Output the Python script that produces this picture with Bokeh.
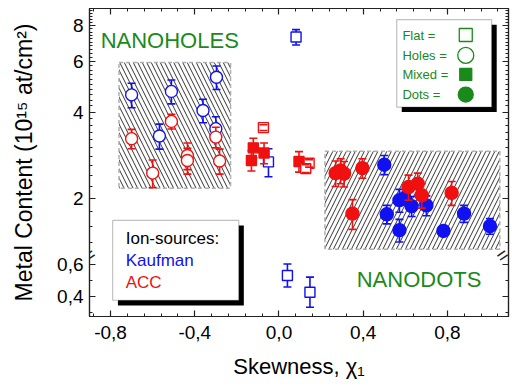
import numpy as np
from bokeh.plotting import figure
from bokeh.models import (Range1d, LinearScale, LogAxis, LinearAxis, FixedTicker,
                          BoxAnnotation, Label, ColumnDataSource, CustomJSTickFormatter)
from bokeh.embed import file_html
from bokeh.resources import INLINE

# ---------------- data (metal content in 1e15 at/cm^2 vs skewness) ----------------
# Kaufman source, "holes" morphology
kauf_holes_x = [-0.70, -0.568, -0.511, -0.361, -0.30, -0.297]
kauf_holes_y = [4.59, 3.30, 4.72, 4.05, 3.50, 5.29]
kauf_holes_e = [0.45, 0.33, 0.45, 0.38, 0.35, 0.50]

# ACC source, "holes" morphology
acc_holes_x = [-0.70, -0.60, -0.511, -0.435, -0.435, -0.30, -0.282]
acc_holes_y = [3.23, 2.45, 3.71, 2.82, 2.71, 3.27, 2.70]
acc_holes_e = [0.25, 0.27, 0.22, 0.30, 0.28, 0.27, 0.27]

# Kaufman source, flat surfaces (upper and lower part of the broken axis)
kauf_flat_x = [-0.05, 0.081]
kauf_flat_y = [2.68, 7.30]
kauf_flat_e = [0.30, 0.45]
kauf_flat_low_x = [0.04, 0.147]
kauf_flat_low_y = [0.531, 0.427]
kauf_flat_low_e = [0.072, 0.094]

# ACC source, flat surfaces
acc_flat_x = [-0.074, 0.143, 0.127]
acc_flat_y = [3.53, 2.65, 2.54]
acc_flat_e = [0.08, 0.08, 0.08]

# ACC source, mixed morphology
acc_mixed_x = [-0.122, -0.071, -0.131, 0.095]
acc_mixed_y = [3.00, 2.88, 2.71, 2.69]
acc_mixed_e = [0.24, 0.24, 0.22, 0.22]

# Kaufman source, dots
kauf_dots_x = [0.50, 0.512, 0.572, 0.572, 0.596, 0.63, 0.70, 0.781, 0.879, 1.002]
kauf_dots_y = [2.62, 1.76, 1.55, 1.97, 2.00, 1.88, 1.89, 1.54, 1.77, 1.60]
kauf_dots_e = [0.20, 0.13, 0.14, 0.18, 0.10, 0.15, 0.15, 0.04, 0.12, 0.10]

# ACC source, dots
acc_dots_x = [0.269, 0.293, 0.309, 0.396, 0.349, 0.615, 0.659, 0.678, 0.82]
acc_dots_y = [2.45, 2.50, 2.44, 2.55, 1.77, 2.19, 2.25, 2.05, 2.09]
acc_dots_e = [0.25, 0.25, 0.25, 0.20, 0.21, 0.22, 0.20, 0.20, 0.20]

# shaded regions: NANOHOLES and NANODOTS
region_left = [-0.76, 0.218]
region_right = [-0.23, 1.049]
region_bottom = [2.17, 1.33]
region_top = [5.95, 2.92]
region_hatch = ["left_diagonal_line", "right_diagonal_line"]

# tick labels
x_major = [-0.8, -0.4, 0.0, 0.4, 0.8]
x_labels = ["-0,8", "-0,4", "0,0", "0,4", "0,8"]
y_major_up = [2, 4, 6, 8]
y_major_low = [0.4, 0.6]
y_labels_low = ["0,4", "0,6"]

# ---------------- axis geometry ----------------
X_MIN, X_MAX = -0.9, 1.09
UP_MIN, UP_MAX = 0.775, 9.18    # log section (mapped over the whole frame)
LO_MIN, LO_MAX = 0.275, 2.20    # linear section (mapped over the whole frame)
BREAK_AT = 0.658                # lower-section value where the axis is broken

BLUE = "#1010f0"
RED = "#f01010"
GREEN = "#1a8a1a"
FONT = "Liberation Sans"


def lower_to_upper(v):
    """Position of a lower-section value expressed in upper (log) coordinates."""
    frac = (v - LO_MIN) / (LO_MAX - LO_MIN)
    lu = np.log10(UP_MIN) + frac * (np.log10(UP_MAX) - np.log10(UP_MIN))
    return round(float(10 ** lu), 10)


p = figure(width=512, height=387, output_backend="svg", toolbar_location=None,
           x_range=Range1d(X_MIN, X_MAX), y_range=Range1d(UP_MIN, UP_MAX),
           y_axis_type="log",
           min_border_left=89, min_border_right=4, min_border_top=8,
           min_border_bottom=71)
p.extra_y_ranges = {"lower": Range1d(LO_MIN, LO_MAX)}
p.extra_y_scales = {"lower": LinearScale()}
p.xgrid.visible = False
p.ygrid.visible = False
p.outline_line_color = "#222222"
p.outline_line_width = 1.2
p.background_fill_color = "white"
p.border_fill_color = "white"

# ---------------- ticks ----------------
x_ticker = FixedTicker(ticks=x_major,
                       minor_ticks=[round(v, 2) for v in np.arange(-0.88, 1.09, 0.08)])
y_major_low_pos = [lower_to_upper(v) for v in y_major_low]
y_ticker = FixedTicker(
    ticks=y_major_up + y_major_low_pos,
    minor_ticks=[round(v, 1) for v in np.arange(1.4, 9.01, 0.2)]
    + [lower_to_upper(0.3), lower_to_upper(0.5)])


def style_axis(ax, show_labels):
    ax.axis_line_color = "#222222"
    ax.axis_line_width = 1.2
    ax.major_tick_in = 6
    ax.major_tick_out = 0
    ax.minor_tick_in = 3
    ax.minor_tick_out = 0
    ax.major_tick_line_color = "#222222"
    ax.minor_tick_line_color = "#222222"
    ax.major_tick_line_width = 1.2
    ax.minor_tick_line_width = 1
    ax.major_label_text_font = FONT
    ax.major_label_text_color = "black"
    ax.major_label_text_font_size = "19px"
    if not show_labels:
        # mirror axis: ticks only
        ax.formatter = CustomJSTickFormatter(code="return ''")
        ax.major_label_standoff = 0


xa = p.xaxis[0]
xa.ticker = x_ticker
style_axis(xa, True)
xa.major_label_standoff = 9
xa.major_label_overrides = {v: s for v, s in zip(x_major, x_labels)}
xa.axis_label = "Skewness, χ₁"
xa.axis_label_text_font = FONT
xa.axis_label_text_font_style = "normal"
xa.axis_label_text_font_size = "22px"
xa.axis_label_text_color = "black"
xa.axis_label_standoff = 12

ya = p.yaxis[0]
ya.ticker = y_ticker
style_axis(ya, True)
ya.major_label_standoff = 6
overrides = {v: str(v) for v in y_major_up}
overrides.update({pos: s for pos, s in zip(y_major_low_pos, y_labels_low)})
ya.major_label_overrides = overrides
ya.axis_label = "Metal Content (10¹⁵ at/cm²)"
ya.axis_label_text_font = FONT
ya.axis_label_text_font_style = "normal"
ya.axis_label_text_font_size = "23px"
ya.axis_label_text_color = "black"
ya.axis_label_standoff = 17

top_axis = LinearAxis(ticker=x_ticker)
style_axis(top_axis, False)
p.add_layout(top_axis, "above")
right_axis = LogAxis(ticker=y_ticker)
style_axis(right_axis, False)
p.add_layout(right_axis, "right")

# axis break marks on both vertical axes (a slanted double stroke)
for x_axis_pos, shift in ((X_MIN, 0), (X_MAX, -6)):
    p.add_layout(Label(x=x_axis_pos, y=BREAK_AT, y_range_name="lower", text="=",
                       x_offset=shift, text_font=FONT, text_font_size="19px",
                       text_color="#222222", text_align="center",
                       text_baseline="middle", angle=0.6))

# ---------------- hatched regions ----------------
p.quad(left=region_left, right=region_right, bottom=region_bottom, top=region_top,
       fill_color="white", hatch_pattern=region_hatch, hatch_color="#333333",
       hatch_scale=9, hatch_weight=1.0, line_color="#b0b0b0", line_dash="4 3",
       line_width=1.5)


# ---------------- data series ----------------
def series(xs, ys, errs, marker, color, filled, size, range_name="default"):
    src = ColumnDataSource(dict(x=xs, y=ys,
                                lo=[y - e for y, e in zip(ys, errs)],
                                hi=[y + e for y, e in zip(ys, errs)]))
    p.segment(x0="x", y0="lo", x1="x", y1="hi", source=src, line_color=color,
              line_width=1.6, y_range_name=range_name)
    p.scatter(x="x", y="y", source=src, marker=marker, size=size,
              fill_color=color if filled else "white", line_color=color,
              line_width=1.4, y_range_name=range_name)
    for key in ("lo", "hi"):
        p.scatter(x="x", y=key, source=src, marker="dash", size=8,
                  line_color=color, line_width=1.6, y_range_name=range_name)


series(kauf_holes_x, kauf_holes_y, kauf_holes_e, "circle", BLUE, False, 12)
series(kauf_flat_x, kauf_flat_y, kauf_flat_e, "square", BLUE, False, 10)
series(kauf_flat_low_x, kauf_flat_low_y, kauf_flat_low_e, "square", BLUE, False, 10, "lower")
series(kauf_dots_x, kauf_dots_y, kauf_dots_e, "circle", BLUE, True, 13)
series(acc_holes_x, acc_holes_y, acc_holes_e, "circle", RED, False, 12)
series(acc_mixed_x, acc_mixed_y, acc_mixed_e, "square", RED, True, 10)
series(acc_flat_x, acc_flat_y, acc_flat_e, "square", RED, False, 10)
series(acc_dots_x, acc_dots_y, acc_dots_e, "circle", RED, True, 13)

# ---------------- region names ----------------
p.add_layout(Label(x=-0.847, y=7.1, text="NANOHOLES", text_font=FONT,
                   text_font_size="22px", text_color=GREEN, text_baseline="middle"))
p.add_layout(Label(x=0.369, y=0.506, y_range_name="lower", text="NANODOTS",
                   text_font=FONT, text_font_size="22px", text_color=GREEN,
                   text_baseline="middle"))

# ---------------- morphology key (upper right) ----------------
p.add_layout(BoxAnnotation(left=0.583, right=1.034, top=8.06, bottom=4.0,
                           fill_color="black", fill_alpha=1, line_color=None,
                           level="underlay"))
p.add_layout(BoxAnnotation(left=0.559, right=1.010, top=8.39, bottom=4.16,
                           fill_color="white", fill_alpha=1, line_color="#333333",
                           line_width=1.2, level="underlay"))
key_labels = ["Flat =", "Holes =", "Mixed =", "Dots ="]
key_markers = ["square", "circle", "square", "circle"]
key_filled = [False, False, True, True]
key_sizes = [13, 16, 12, 15]
key_rows = [7.42, 6.30, 5.41, 4.60]
for lab, mk, fl, sz, yr in zip(key_labels, key_markers, key_filled, key_sizes, key_rows):
    p.add_layout(Label(x=0.586, y=yr, text=lab, text_font=FONT, text_font_size="13px",
                       text_color=GREEN, text_baseline="middle"))
    p.scatter(x=[0.887], y=[yr], marker=mk, size=sz,
              fill_color=GREEN if fl else "white", line_color=GREEN, line_width=1.3)

# ---------------- ion source key (lower left) ----------------
p.add_layout(BoxAnnotation(left=-0.765, right=-0.167, top=1.61, bottom=0.847,
                           fill_color="black", fill_alpha=1, line_color=None,
                           level="underlay"))
p.add_layout(BoxAnnotation(left=-0.790, right=-0.191, top=1.676, bottom=0.883,
                           fill_color="white", fill_alpha=1, line_color="#333333",
                           line_width=1.2, level="underlay"))
src_labels = ["Ion-sources:", "Kaufman", "ACC"]
src_colors = ["black", BLUE, RED]
src_rows = [1.45, 1.216, 1.02]
for lab, col, yr in zip(src_labels, src_colors, src_rows):
    p.add_layout(Label(x=-0.728, y=yr, text=lab, text_font=FONT, text_font_size="17px",
                       text_color=col, text_baseline="middle"))

open("out.html", "w").write(file_html(p, INLINE))
